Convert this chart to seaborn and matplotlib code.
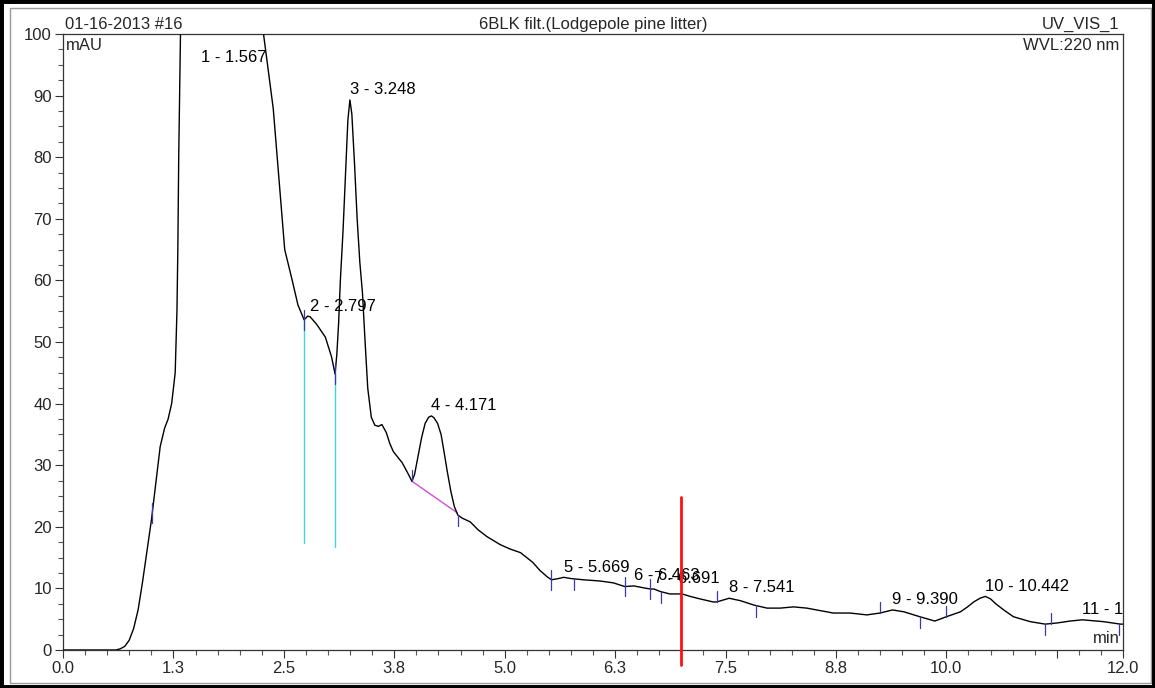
import numpy as np
import pandas as pd
import matplotlib
matplotlib.use("Agg")
import matplotlib.pyplot as plt
from matplotlib.patches import Rectangle
from matplotlib.ticker import FixedLocator, MultipleLocator
import seaborn as sns

# UV detector trace, channel UV_VIS_1 (time in min, signal in mAU)
time_min = [0.00, 0.30, 0.60, 0.65, 0.70, 0.75, 0.80, 0.85, 0.90, 0.95,
            1.00, 1.05, 1.10, 1.15, 1.19, 1.23, 1.27, 1.29, 1.30, 1.31,
            1.33, 1.35, 1.45, 1.567, 1.80, 2.05, 2.20, 2.27, 2.38, 2.51,
            2.59, 2.66, 2.73, 2.77, 2.797, 2.87, 2.97, 3.04, 3.08, 3.10,
            3.12, 3.14, 3.17, 3.20, 3.225, 3.248, 3.27, 3.30, 3.33, 3.36,
            3.39, 3.42, 3.45, 3.49, 3.53, 3.57, 3.61, 3.66, 3.70, 3.74,
            3.84, 3.90, 3.95, 3.98, 4.02, 4.06, 4.10, 4.14, 4.171, 4.20,
            4.24, 4.28, 4.31, 4.35, 4.39, 4.43, 4.47, 4.52, 4.61, 4.70,
            4.80, 4.95, 5.06, 5.18, 5.32, 5.40, 5.48, 5.53, 5.61, 5.669,
            5.75, 5.89, 6.08, 6.23, 6.36, 6.463, 6.57, 6.65, 6.691, 6.76,
            6.87, 7.01, 7.10, 7.21, 7.36, 7.40, 7.47, 7.541, 7.67, 7.82,
            7.97, 8.12, 8.27, 8.42, 8.57, 8.72, 8.91, 9.10, 9.25, 9.390,
            9.52, 9.70, 9.87, 10.00, 10.16, 10.24, 10.31, 10.38, 10.442, 10.50,
            10.56, 10.65, 10.76, 10.95, 11.12, 11.26, 11.40, 11.54, 11.78, 11.97,
            12.00]
signal_mau = [0.0, 0.0, 0.0, 0.2, 0.6, 1.6, 3.5, 6.5, 11.0, 16.0,
              21.0, 27.0, 33.0, 36.0, 37.5, 40.0, 45.0, 55.0, 65.0, 80.0,
              100.0, 130.0, 210.0, 260.0, 220.0, 160.0, 118.0, 100.0, 87.9, 65.0,
              60.3, 56.0, 53.6, 54.2, 54.1, 52.9, 50.8, 47.6, 44.8, 48.0,
              53.0, 60.0, 68.0, 78.0, 86.0, 89.3, 87.0, 79.0, 70.0, 63.0,
              58.0, 50.0, 42.5, 37.8, 36.5, 36.3, 36.6, 35.3, 33.5, 32.2,
              30.4, 28.8, 27.4, 28.5, 31.5, 34.5, 36.8, 37.8, 38.0, 37.7,
              36.8, 35.0, 32.5, 29.0, 25.8, 23.3, 21.9, 21.4, 20.8, 19.5,
              18.4, 17.1, 16.4, 15.8, 14.2, 12.9, 11.9, 11.4, 11.6, 11.8,
              11.6, 11.4, 11.2, 10.9, 10.3, 10.4, 10.1, 9.9, 9.9, 9.5,
              9.1, 9.1, 8.7, 8.3, 7.8, 7.8, 8.1, 8.4, 8.0, 7.3,
              6.8, 6.8, 7.0, 6.8, 6.4, 6.0, 6.0, 5.7, 6.0, 6.5,
              6.2, 5.4, 4.7, 5.4, 6.2, 7.0, 7.8, 8.4, 8.7, 8.3,
              7.5, 6.5, 5.4, 4.6, 4.2, 4.4, 4.7, 4.9, 4.6, 4.2,
              4.2]

# Detected peaks: number and retention time (min)
peak_numbers = [1, 2, 3, 4, 5, 6, 7, 8, 9, 10, 11]
peak_times = [1.567, 2.797, 3.248, 4.171, 5.669, 6.463, 6.691, 7.541, 9.390, 10.442, 11.540]

# Integration delimiters: time and which side of the trace the tick sits on
delim_times = [1.01, 2.73, 3.08, 3.95, 4.47, 5.53, 5.78, 6.36, 6.65, 6.77,
               7.40, 7.84, 9.25, 9.70, 10.00, 11.12, 11.18, 11.96]
delim_sides = [0, 0, 0, 1, -1, 0, -1, 0, 0, -1,
               1, -1, 1, -1, 1, -1, 1, -1]

# Perpendicular drop lines between peaks 1/2 and 2/3
drop_times = [2.73, 3.08]
drop_floor = [17.4, 16.8]

# Skimmed baseline under peak 4
skim_times = [3.95, 4.46]
skim_values = [27.4, 22.3]

# Time marker
marker_time = 7.0
marker_span = [-2.5, 24.9]

x_tick_pos = [0.0, 1.25, 2.5, 3.75, 5.0, 6.25, 7.5, 8.75, 10.0, 11.25, 12.0]
x_tick_text = ["0.0", "1.3", "2.5", "3.8", "5.0", "6.3", "7.5", "8.8", "10.0", "", "12.0"]
y_tick_pos = [0, 10, 20, 30, 40, 50, 60, 70, 80, 90, 100]

sns.set_style("ticks")
plt.rcParams["font.family"] = ["Liberation Sans", "DejaVu Sans"]

W, H = 1155, 688
fig = plt.figure(figsize=(W / 100, H / 100), dpi=100)
ax = fig.add_axes([63 / W, 1 - 650 / H, (1123 - 63) / W, (650 - 34) / H])

trace = pd.DataFrame({"time": time_min, "signal": signal_mau})
sns.lineplot(data=trace, x="time", y="signal", color="black", linewidth=1.0,
             ax=ax, zorder=3)

ax.set_xlim(0, 12)
ax.set_ylim(0, 100)
ax.set_xlabel("")
ax.set_ylabel("")

# drop lines
for t, fl in zip(drop_times, drop_floor):
    top = np.interp(t, time_min, signal_mau)
    ax.plot([t, t], [fl, top], color="#3fd8d8", linewidth=1.0, zorder=2)

# skimmed baseline
ax.plot(skim_times, skim_values, color="#d04fd0", linewidth=1.0, zorder=2)

# delimiter ticks
for t, side in zip(delim_times, delim_sides):
    yv = np.interp(t, time_min, signal_mau)
    if side > 0:
        lo, hi = yv, yv + 1.8
    elif side < 0:
        lo, hi = yv - 1.8, yv
    else:
        lo, hi = yv - 1.6, yv + 1.6
    ax.plot([t, t], [lo, hi], color="#3838b0", linewidth=0.9, zorder=4)

# peak labels
for n, t in zip(peak_numbers, peak_times):
    yv = min(np.interp(t, time_min, signal_mau), 94.5)
    ax.annotate(f"{n} - {t:.3f}", xy=(t, yv), xytext=(0, 2),
                textcoords="offset points", ha="left", va="bottom",
                fontsize=12, color="black", annotation_clip=True,
                clip_on=True, zorder=5)

# time marker
ax.plot([marker_time, marker_time], marker_span, color="#ff1010",
        linewidth=2.0, clip_on=False, zorder=6)

# ticks
ax.xaxis.set_major_locator(FixedLocator(x_tick_pos))
ax.set_xticklabels(x_tick_text)
ax.xaxis.set_minor_locator(MultipleLocator(0.25))
ax.yaxis.set_major_locator(FixedLocator(y_tick_pos))
ax.set_yticklabels([str(v) for v in y_tick_pos])
ax.yaxis.set_minor_locator(MultipleLocator(2.5))
ax.tick_params(which="major", direction="out", length=6, width=0.8,
               color="#333333", labelsize=12, pad=2)
ax.tick_params(which="minor", direction="out", length=3.5, width=0.8,
               color="#555555")
for s in ax.spines.values():
    s.set_visible(True)
    s.set_color("#333333")
    s.set_linewidth(0.9)

# header and unit texts
ax.text(0.002, 1.004, "01-16-2013 #16", transform=ax.transAxes, ha="left",
        va="bottom", fontsize=12)
ax.text(0.5, 1.004, "6BLK filt.(Lodgepole pine litter)", transform=ax.transAxes,
        ha="center", va="bottom", fontsize=12)
ax.text(0.997, 1.004, "UV_VIS_1", transform=ax.transAxes, ha="right",
        va="bottom", fontsize=12)
ax.text(0.997, 0.993, "WVL:220 nm", transform=ax.transAxes, ha="right",
        va="top", fontsize=12)
ax.text(0.003, 0.993, "mAU", transform=ax.transAxes, ha="left",
        va="top", fontsize=12)
ax.text(0.997, 0.006, "min", transform=ax.transAxes, ha="right",
        va="bottom", fontsize=12)

# page frame
fig.patches.append(Rectangle((10 / W, 1 - 683 / H), (1151 - 10) / W, (683 - 8) / H,
                             transform=fig.transFigure, fill=False,
                             edgecolor="#9a9a9a", linewidth=1.0))
fig.patches.append(Rectangle((0, 0), 1, 1, transform=fig.transFigure, fill=False,
                             edgecolor="black", linewidth=5))

fig.savefig("out.png", dpi=100)
